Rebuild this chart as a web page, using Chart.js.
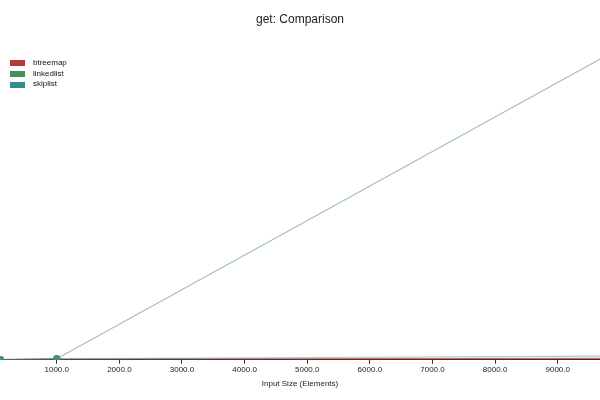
<!DOCTYPE html>
<html>
<head>
<meta charset="utf-8">
<script src="https://cdn.jsdelivr.net/npm/chart.js@4"></script>
<style>
html,body{margin:0;padding:0;background:#fff;}
#wrap{width:600px;height:400px;position:relative;font-family:"Liberation Sans",Arial,sans-serif;}
#legend{position:absolute;left:10px;top:58px;font-size:8px;color:#111;line-height:10.7px;}
#legend .item{display:flex;align-items:center;height:10.7px;}
#legend .box{width:15px;height:6px;margin-right:8px;}
</style>
</head>
<body>
<div id="wrap"><canvas id="c" width="600" height="400"></canvas><div id="legend"></div></div>
<script>
const inputSizes = [100, 1000, 10000];
const btreemap = [0.1, 0.2, 0.5];
const linkedlist = [0.05, 0.35, 100.5];
const skiplist = [0.1, 0.3, 1.25];
const xTicks = [1000, 2000, 3000, 4000, 5000, 6000, 7000, 8000, 9000];
const seriesNames = ['btreemap', 'linkedlist', 'skiplist'];
const seriesColors = ['rgba(176,58,58,0.75)', 'rgba(74,140,92,0.55)', 'rgba(58,138,140,0.4)'];
const legendColors = ['#b33a3a', '#4a8c5c', '#3a8a8c'];
const pointColors = ['#b33a3a', '#4a8c5c', '#3f8f8a'];

const seriesData = [btreemap, linkedlist, skiplist];
const datasets = seriesNames.map((name, i) => ({
  label: name,
  data: inputSizes.map((x, j) => ({x: x, y: seriesData[i][j]})),
  borderColor: seriesColors[i],
  backgroundColor: legendColors[i],
  pointBackgroundColor: pointColors[i],
  pointBorderColor: pointColors[i],
  pointRadius: 3,
  borderWidth: 1.2,
  order: 3 - i
}));

const legendEl = document.getElementById('legend');
seriesNames.forEach((name, i) => {
  const item = document.createElement('div');
  item.className = 'item';
  const box = document.createElement('span');
  box.className = 'box';
  box.style.background = legendColors[i];
  const txt = document.createElement('span');
  txt.textContent = name;
  item.appendChild(box);
  item.appendChild(txt);
  legendEl.appendChild(item);
});

Chart.defaults.font.family = '"Liberation Sans", Arial, sans-serif';
Chart.defaults.color = '#333';

new Chart(document.getElementById('c'), {
  type: 'line',
  data: {datasets: datasets},
  options: {
    responsive: false,
    animation: false,
    layout: {autoPadding: false, padding: {top: 0, left: 0, right: 0, bottom: 7}},
    plugins: {
      title: {display: true, text: 'get: Comparison', font: {size: 12, weight: 'normal'}, color: '#222', padding: {top: 12, bottom: 23}},
      legend: {display: false},
      tooltip: {enabled: false}
    },
    scales: {
      x: {
        type: 'linear',
        min: 94,
        max: 9675,
        afterBuildTicks: (scale) => { scale.ticks = xTicks.map(v => ({value: v})); },
        ticks: {callback: v => Number(v).toFixed(1), font: {size: 8}, color: '#222', padding: 1, maxRotation: 0, autoSkip: false},
        grid: {display: true, drawOnChartArea: false, drawTicks: true, tickLength: 4, color: '#333'},
        border: {display: true, color: '#333', width: 1},
        title: {display: true, text: 'Input Size (Elements)', font: {size: 8}, color: '#222', padding: {top: 4, bottom: 4}}
      },
      y: {
        display: false,
        min: 0,
        max: 100
      }
    }
  }
});
</script>
</body>
</html>
